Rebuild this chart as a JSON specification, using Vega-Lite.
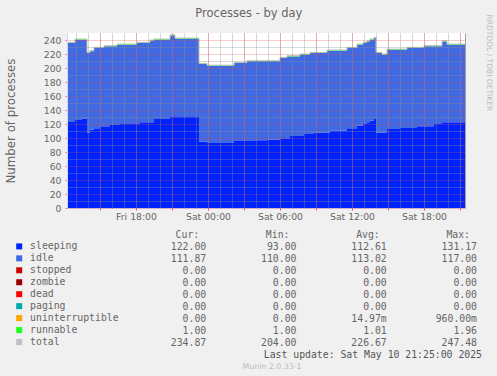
{
  "$schema": "https://vega.github.io/schema/vega-lite/v6.json",
  "background": "#f0f0f0",
  "padding": {"left": 5, "top": 7, "right": 5, "bottom": 5},
  "title": {"text": "Processes - by day", "font": "DejaVu Sans", "fontSize": 11.5, "fontWeight": "normal", "color": "#666666", "anchor": "middle", "offset": -5},
  "config": {"view": {"stroke": null}, "font": "DejaVu Sans"},
  "spacing": 8,
  "resolve": {"scale": {"x": "independent", "y": "independent", "color": "independent"}},
  "datasets": {
    "series": [
      {"t": "2025-05-09T12:15:00Z", "sleeping": 123, "idle": 112.7, "runnable": 1, "total": 236.7},
      {"t": "2025-05-09T12:55:00Z", "sleeping": 125.7, "idle": 114.7, "runnable": 1, "total": 241.4},
      {"t": "2025-05-09T13:30:00Z", "sleeping": 128, "idle": 112.4, "runnable": 1, "total": 241.4},
      {"t": "2025-05-09T13:55:00Z", "sleeping": 108, "idle": 113.4, "runnable": 1, "total": 222.4},
      {"t": "2025-05-09T14:10:00Z", "sleeping": 112, "idle": 112, "runnable": 1, "total": 225},
      {"t": "2025-05-09T14:30:00Z", "sleeping": 114, "idle": 114.5, "runnable": 1, "total": 229.5},
      {"t": "2025-05-09T15:00:00Z", "sleeping": 116.7, "idle": 111.8, "runnable": 1, "total": 229.5},
      {"t": "2025-05-09T15:20:00Z", "sleeping": 116.7, "idle": 114.2, "runnable": 1, "total": 231.9},
      {"t": "2025-05-09T15:50:00Z", "sleeping": 118.6, "idle": 112.3, "runnable": 1, "total": 231.9},
      {"t": "2025-05-09T16:25:00Z", "sleeping": 118.6, "idle": 114.7, "runnable": 1, "total": 234.3},
      {"t": "2025-05-09T16:40:00Z", "sleeping": 120, "idle": 113.3, "runnable": 1, "total": 234.3},
      {"t": "2025-05-09T18:05:00Z", "sleeping": 120, "idle": 115.7, "runnable": 1, "total": 236.7},
      {"t": "2025-05-09T18:20:00Z", "sleeping": 122.4, "idle": 113.3, "runnable": 1, "total": 236.7},
      {"t": "2025-05-09T19:10:00Z", "sleeping": 122.4, "idle": 116.6, "runnable": 1, "total": 240},
      {"t": "2025-05-09T19:30:00Z", "sleeping": 127, "idle": 113.4, "runnable": 1, "total": 241.4},
      {"t": "2025-05-09T20:50:00Z", "sleeping": 131.17, "idle": 115.3, "runnable": 1, "total": 247.47},
      {"t": "2025-05-09T21:15:00Z", "sleeping": 131, "idle": 110.8, "runnable": 1, "total": 242.8},
      {"t": "2025-05-09T22:00:00Z", "sleeping": 130, "idle": 111.8, "runnable": 1, "total": 242.8},
      {"t": "2025-05-09T23:15:00Z", "sleeping": 95, "idle": 110.7, "runnable": 1, "total": 206.7},
      {"t": "2025-05-09T23:55:00Z", "sleeping": 93, "idle": 110, "runnable": 1, "total": 204},
      {"t": "2025-05-10T02:10:00Z", "sleeping": 95.7, "idle": 111.3, "runnable": 1, "total": 208},
      {"t": "2025-05-10T03:15:00Z", "sleeping": 95.7, "idle": 113.8, "runnable": 1, "total": 210.5},
      {"t": "2025-05-10T03:50:00Z", "sleeping": 96.7, "idle": 112.8, "runnable": 1, "total": 210.5},
      {"t": "2025-05-10T04:55:00Z", "sleeping": 97.6, "idle": 111.9, "runnable": 1, "total": 210.5},
      {"t": "2025-05-10T06:00:00Z", "sleeping": 99.5, "idle": 114.7, "runnable": 1, "total": 215.2},
      {"t": "2025-05-10T06:35:00Z", "sleeping": 99.5, "idle": 117, "runnable": 1, "total": 217.5},
      {"t": "2025-05-10T06:50:00Z", "sleeping": 103, "idle": 113.6, "runnable": 1, "total": 217.6},
      {"t": "2025-05-10T07:40:00Z", "sleeping": 103, "idle": 116, "runnable": 1, "total": 220},
      {"t": "2025-05-10T08:00:00Z", "sleeping": 105.7, "idle": 113.3, "runnable": 1, "total": 220},
      {"t": "2025-05-10T08:30:00Z", "sleeping": 105.7, "idle": 115.7, "runnable": 1, "total": 222.4},
      {"t": "2025-05-10T08:50:00Z", "sleeping": 108, "idle": 113.4, "runnable": 1, "total": 222.4},
      {"t": "2025-05-10T09:55:00Z", "sleeping": 108, "idle": 116.7, "runnable": 1, "total": 225.7},
      {"t": "2025-05-10T10:10:00Z", "sleeping": 110.5, "idle": 114.2, "runnable": 1, "total": 225.7},
      {"t": "2025-05-10T11:35:00Z", "sleeping": 113.8, "idle": 114.7, "runnable": 1, "total": 229.5},
      {"t": "2025-05-10T12:25:00Z", "sleeping": 117.6, "idle": 115.7, "runnable": 1, "total": 234.3},
      {"t": "2025-05-10T12:55:00Z", "sleeping": 120, "idle": 116, "runnable": 1, "total": 237},
      {"t": "2025-05-10T13:15:00Z", "sleeping": 122.4, "idle": 115.6, "runnable": 1, "total": 239},
      {"t": "2025-05-10T13:30:00Z", "sleeping": 124.5, "idle": 116, "runnable": 1, "total": 241.5},
      {"t": "2025-05-10T13:50:00Z", "sleeping": 127, "idle": 115.8, "runnable": 1, "total": 243.8},
      {"t": "2025-05-10T14:00:00Z", "sleeping": 108, "idle": 113.4, "runnable": 1, "total": 222.4},
      {"t": "2025-05-10T14:30:00Z", "sleeping": 108, "idle": 111, "runnable": 1, "total": 220},
      {"t": "2025-05-10T14:55:00Z", "sleeping": 113, "idle": 113, "runnable": 1, "total": 227},
      {"t": "2025-05-10T16:00:00Z", "sleeping": 114.3, "idle": 111.7, "runnable": 1, "total": 227},
      {"t": "2025-05-10T16:35:00Z", "sleeping": 114.3, "idle": 114.2, "runnable": 1, "total": 229.5},
      {"t": "2025-05-10T17:25:00Z", "sleeping": 116.7, "idle": 111.8, "runnable": 1, "total": 229.5},
      {"t": "2025-05-10T18:00:00Z", "sleeping": 116.7, "idle": 114.3, "runnable": 1, "total": 232},
      {"t": "2025-05-10T18:50:00Z", "sleeping": 120, "idle": 111, "runnable": 1, "total": 232},
      {"t": "2025-05-10T19:30:00Z", "sleeping": 122.4, "idle": 115.6, "runnable": 1, "total": 239},
      {"t": "2025-05-10T19:55:00Z", "sleeping": 122.4, "idle": 110.9, "runnable": 1, "total": 234.3},
      {"t": "2025-05-10T21:25:00Z", "sleeping": 122, "idle": 111.87, "runnable": 1, "total": 234.87}
    ],
    "stackorder": [
      {"series": "sleeping", "rank": 1},
      {"series": "idle", "rank": 2},
      {"series": "runnable", "rank": 3}
    ],
    "stats": [
      {"name": "sleeping", "cur": "122.00", "min": "93.00", "avg": "112.61", "max": "131.17"},
      {"name": "idle", "cur": "111.87", "min": "110.00", "avg": "113.02", "max": "117.00"},
      {"name": "stopped", "cur": "0.00", "min": "0.00", "avg": "0.00", "max": "0.00"},
      {"name": "zombie", "cur": "0.00", "min": "0.00", "avg": "0.00", "max": "0.00"},
      {"name": "dead", "cur": "0.00", "min": "0.00", "avg": "0.00", "max": "0.00"},
      {"name": "paging", "cur": "0.00", "min": "0.00", "avg": "0.00", "max": "0.00"},
      {"name": "uninterruptible", "cur": "0.00", "min": "0.00", "avg": "14.97m", "max": "960.00m"},
      {"name": "runnable", "cur": "1.00", "min": "1.00", "avg": "1.01", "max": "1.96"},
      {"name": "total", "cur": "234.87", "min": "204.00", "avg": "226.67", "max": "247.48"}
    ],
    "headers": [
      {"row": "head", "col": "cur", "label": "Cur:"},
      {"row": "head", "col": "min", "label": "Min:"},
      {"row": "head", "col": "avg", "label": "Avg:"},
      {"row": "head", "col": "max", "label": "Max:"}
    ],
    "footer": [
      {"row": "update", "col": "max", "label": "Last update:  Sat May 10 21:25:00 2025"}
    ]
  },
  "vconcat": [
    {
      "width": 398,
      "height": 175,
      "view": {"fill": "#ffffff", "stroke": null},
      "data": {"name": "series"},
      "layer": [
        {
          "transform": [
            {"fold": ["sleeping", "idle", "runnable"], "as": ["series", "count"]},
            {"lookup": "series", "from": {"data": {"name": "stackorder"}, "key": "series", "fields": ["rank"]}}
          ],
          "mark": {"type": "area", "interpolate": "step-after"},
          "encoding": {
            "x": {
              "field": "t", "type": "temporal",
              "scale": {"type": "utc", "nice": false, "domain": [{"year": 2025, "month": 5, "date": 9, "hours": 12, "minutes": 15, "utc": true}, {"year": 2025, "month": 5, "date": 10, "hours": 21, "minutes": 25, "utc": true}]},
              "axis": {
                "orient": "bottom",
                "title": null,
                "tickCount": 6,
                "format": "%a %H:%M",
                "grid": false,
                "ticks": false,
                "labelOverlap": false,
                "labelFlush": false,
                "labelFont": "DejaVu Sans",
                "labelFontSize": 9.3,
                "labelColor": "#666666",
                "labelPadding": 4,
                "domainColor": "#cfd6f8"
              }
            },
            "y": {
              "field": "count", "type": "quantitative", "stack": "zero",
              "scale": {"domain": [0, 250], "nice": false},
              "axis": {
                "values": [0, 20, 40, 60, 80, 100, 120, 140, 160, 180, 200, 220, 240],
                "grid": true,
                "gridDash": [1, 1],
                "gridColor": "#de4f4f",
                "gridOpacity": 0.55,
                "tickSize": 2,
                "tickColor": "#de4f4f",
                "tickOpacity": 0.7,
                "labelFont": "DejaVu Sans",
                "labelFontSize": 9.3,
                "labelColor": "#666666",
                "labelPadding": 4,
                "domainColor": "#cfd6f8",
                "title": "Number of processes",
                "titleFont": "DejaVu Sans",
                "titleFontSize": 11.8,
                "titleFontWeight": "normal",
                "titleColor": "#666666",
                "titlePadding": 27,
                "zindex": 2
              }
            },
            "color": {
              "field": "series", "type": "nominal",
              "scale": {"domain": ["sleeping", "idle", "runnable"], "range": ["#0022ff", "#4169e1", "#22ff22"]},
              "legend": null
            },
            "order": {"field": "rank", "type": "quantitative", "sort": "ascending"}
          }
        },
        {
          "mark": {"type": "line", "interpolate": "step-after", "color": "#c0c0c0", "strokeWidth": 1},
          "encoding": {
            "x": {
              "field": "t", "type": "temporal",
              "axis": {
                "orient": "bottom", "title": null, "tickCount": 33,
                "grid": true, "gridColor": "#8f8f8f", "gridOpacity": 0.7, "gridDash": [1, 1],
                "labels": false, "ticks": false, "domain": false, "zindex": 1
              }
            },
            "y": {
              "field": "total", "type": "quantitative",
              "axis": {
                "orient": "right",
                "values": [10, 30, 50, 70, 90, 110, 130, 150, 170, 190, 210, 230],
                "grid": true,
                "gridColor": "#8f8f8f",
                "gridOpacity": 0.7,
                "gridDash": [1, 1],
                "labels": false,
                "ticks": false,
                "domainColor": "#a0a0a0",
                "title": "RRDTOOL / TOBI OETIKER",
                "titleFont": "DejaVu Sans",
                "titleFontSize": 7.5,
                "titleFontWeight": "normal",
                "titleColor": "#bbbbbb",
                "titleAngle": 90,
                "titleAlign": "left",
                "titleBaseline": "middle",
                "titleX": 23.5,
                "titleY": -19,
                "zindex": 1
              }
            }
          }
        },
        {
          "mark": {"type": "line", "opacity": 0},
          "encoding": {
            "x": {
              "field": "t", "type": "temporal",
              "axis": {
                "orient": "bottom", "title": null, "tickCount": 11,
                "grid": true, "gridColor": "#de4f4f", "gridOpacity": 0.55, "gridDash": [1, 1],
                "labels": false, "ticks": true, "tickColor": "#de4f4f", "tickSize": 2, "domain": false, "zindex": 2
              }
            },
            "y": {"field": "total", "type": "quantitative", "axis": null}
          }
        }
      ],
      "resolve": {"axis": {"x": "independent", "y": "independent"}}
    },
    {
      "width": 410,
      "height": 120,
      "data": {"name": "stats"},
      "title": {"text": "Munin 2.0.33-1", "orient": "bottom", "anchor": "middle", "font": "DejaVu Sans", "fontSize": 7.8, "fontWeight": "normal", "color": "#bbbbbb", "offset": 3},
      "layer": [
        {
          "mark": {"type": "square", "size": 0, "opacity": 0},
          "encoding": {
            "y": {"field": "name", "type": "nominal", "scale": {"type": "point", "padding": 0, "domain": ["head", "sleeping", "idle", "stopped", "zombie", "dead", "paging", "uninterruptible", "runnable", "total", "update"]}, "axis": null},
            "color": {
              "field": "name", "type": "nominal",
              "scale": {"domain": ["sleeping", "idle", "stopped", "zombie", "dead", "paging", "uninterruptible", "runnable", "total"], "range": ["#0022ff", "#4169e1", "#cc0000", "#990000", "#ff0000", "#00aaaa", "#ffa500", "#22ff22", "#c0c0c0"]},
              "legend": {
                "orient": "none", "legendX": -52.7, "legendY": 6.5, "title": null, "direction": "vertical",
                "symbolType": "square", "symbolSize": 36, "symbolStrokeWidth": 0,
                "labelFont": "DejaVu Sans Mono", "labelFontSize": 9.8, "labelColor": "#666666", "labelOffset": 6, "labelLimit": 200,
                "rowPadding": 0.95, "padding": 0
              }
            }
          }
        },
        {
          "transform": [{"fold": ["cur", "min", "avg", "max"], "as": ["col", "val"]}],
          "mark": {"type": "text", "align": "right", "baseline": "middle", "font": "DejaVu Sans Mono", "fontSize": 9.8, "color": "#666666"},
          "encoding": {
            "x": {"field": "col", "type": "nominal", "scale": {"type": "point", "padding": 0.771, "align": 1, "domain": ["cur", "min", "avg", "max"]}, "axis": null},
            "y": {"field": "name", "type": "nominal"},
            "text": {"field": "val", "type": "nominal"}
          }
        },
        {
          "data": {"name": "headers"},
          "mark": {"type": "text", "align": "right", "baseline": "middle", "font": "DejaVu Sans Mono", "fontSize": 9.8, "color": "#666666", "dx": -7},
          "encoding": {
            "x": {"field": "col", "type": "nominal"},
            "y": {"field": "row", "type": "nominal"},
            "text": {"field": "label", "type": "nominal"}
          }
        },
        {
          "data": {"name": "footer"},
          "mark": {"type": "text", "align": "right", "baseline": "middle", "font": "DejaVu Sans Mono", "fontSize": 9.8, "color": "#555555", "dx": 5},
          "encoding": {
            "x": {"field": "col", "type": "nominal"},
            "y": {"field": "row", "type": "nominal"},
            "text": {"field": "label", "type": "nominal"}
          }
        }
      ]
    }
  ]
}
